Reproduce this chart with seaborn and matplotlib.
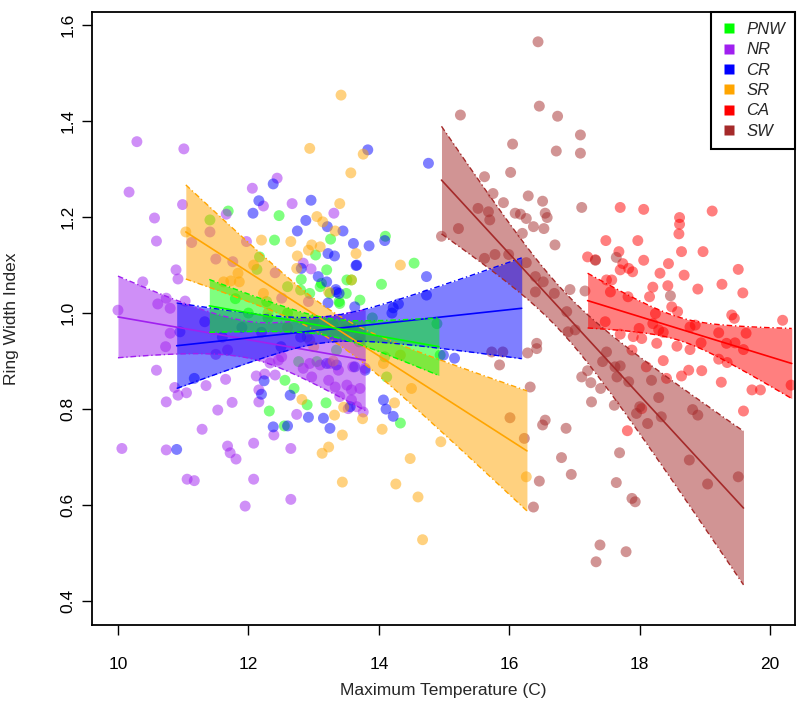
import numpy as np
import pandas as pd
import matplotlib
matplotlib.use("Agg")
import matplotlib.pyplot as plt
from matplotlib.lines import Line2D
import seaborn as sns

sns.set_style("white")
plt.rcParams['font.family'] = ['Liberation Sans', 'DejaVu Sans']

regions = ["PNW", "NR", "CR", "SR", "CA", "SW"]
colors = {"PNW": "#00FF00", "NR": "#A020F0", "CR": "#0000FF",
          "SR": "#FFA500", "CA": "#FF0000", "SW": "#A52A2A"}

nr_x = [10.29, 11.01, 10.17, 10.99, 10.56, 10.59, 11.66, 12.06, 12.44, 12.23, 12.67, 13.31, 10.89, 10.92,
        10.38, 10.0, 10.61, 10.8, 10.74, 11.03, 12.84, 12.96, 11.97, 10.8, 10.73, 10.59, 10.87, 10.92, 11.05,
        10.74, 11.35, 11.65, 11.75, 11.53, 11.29, 10.06, 10.74, 11.68, 11.72, 11.81, 12.08, 12.65, 11.06, 11.17,
        12.08, 11.95, 12.65, 12.39, 12.74, 12.16, 12.12, 12.25, 12.41, 12.16, 11.5, 11.68, 12.33, 12.46, 12.97,
        13.1, 13.25, 13.38, 13.23, 13.33, 13.51, 13.58, 13.71, 13.58, 13.66, 13.76, 13.53, 13.4, 12.94, 12.84,
        13.6, 13.79, 12.51, 12.94, 13.48, 11.41, 11.13, 11.5, 11.76, 12.41, 12.51, 12.92]
nr_y = [1.357, 1.342, 1.252, 1.226, 1.198, 1.15, 1.206, 1.26, 1.281, 1.223, 1.228, 1.208, 1.09, 1.071,
        1.065, 1.006, 1.019, 1.01, 1.031, 1.025, 1.104, 1.092, 1.149, 0.958, 0.93, 0.881, 0.845, 0.829, 0.834,
        0.815, 0.849, 0.862, 0.814, 0.798, 0.758, 0.718, 0.715, 0.723, 0.709, 0.696, 0.729, 0.718, 0.654, 0.651,
        0.654, 0.598, 0.612, 0.746, 0.789, 0.815, 0.869, 0.873, 0.871, 0.84, 0.914, 0.923, 0.896, 0.902, 0.867,
        0.892, 0.895, 0.881, 0.86, 0.846, 0.85, 0.84, 0.843, 0.819, 0.805, 0.794, 0.801, 0.826, 0.895, 0.885,
        0.888, 0.885, 0.909, 0.944, 0.965, 1.169, 1.147, 1.1125, 1.107, 1.084, 1.031, 1.024]

cr_x = [12.38, 12.16, 12.07, 12.96, 12.88, 12.75, 13.21, 13.45, 13.61, 13.65, 13.22, 13.32, 12.81, 13.07,
        13.2, 13.34, 13.22, 13.39, 13.83, 14.76, 13.85, 14.09, 13.66, 14.73, 13.35, 13.63, 14.73, 14.22, 14.3,
        14.07, 14.11, 14.22, 15.16, 14.99, 13.25, 13.56, 13.63, 13.35, 13.79, 10.9, 11.17, 12.38, 12.6, 12.2,
        12.24, 12.64, 12.92, 13.15, 11.33, 10.95, 11.6, 11.9, 12.2, 14.2, 12.5, 12.8, 13.2]
cr_y = [1.269, 1.234, 1.208, 1.235, 1.193, 1.171, 1.18, 1.171, 1.145, 1.099, 1.124, 1.119, 1.093, 1.076,
        1.065, 1.049, 1.021, 1.041, 1.34, 1.312, 1.14, 1.151, 1.1, 1.076, 1.044, 1.013, 1.0375, 1.011, 1.019,
        0.819, 0.8, 0.785, 0.906, 0.9125, 0.76, 0.805, 0.888, 0.892, 0.881, 0.716, 0.864, 0.763, 0.765, 0.831,
        0.859, 0.829, 0.783, 0.781, 0.982, 0.961, 0.95, 0.97, 0.96, 1.0, 0.93, 0.95, 0.895]

pnw_x = [11.69, 12.47, 12.4, 11.41, 13.26, 13.03, 13.2, 13.12, 12.81, 12.8, 13.51, 13.39, 12.17, 12.13,
         12.6, 12.28, 13.25, 12.94, 13.1, 14.1, 14.54, 14.04, 13.5, 13.71, 13.4, 13.58, 14.89, 14.94, 14.33,
         14.12, 14.09, 12.32, 12.55, 12.9, 13.19, 12.56, 12.7, 13.35, 13.05, 12.77, 12.0, 12.3, 12.6, 13.0,
         13.3, 13.6, 13.9, 11.8, 12.9, 13.7]
pnw_y = [1.2125, 1.203, 1.152, 1.194, 1.154, 1.121, 1.09, 1.062, 1.07, 1.048, 1.069, 1.024, 1.117, 1.091,
         1.055, 1.024, 1.041, 1.041, 1.055, 1.16, 1.104, 1.06, 1.041, 1.027, 1.02, 1.069, 0.978, 0.9125, 0.771,
         0.867, 0.909, 0.796, 0.765, 0.809, 0.813, 0.86, 0.843, 0.923, 0.899, 0.899, 1.0, 0.99, 1.0, 0.985,
         0.975, 0.97, 0.99, 1.03, 0.95, 0.94]

sr_x = [13.42, 12.94, 13.57, 13.4, 13.05, 13.14, 13.33, 12.2, 12.65, 12.97, 13.1, 12.92, 12.75, 12.74,
        13.65, 13.58, 13.23, 11.04, 11.84, 12.08, 11.62, 11.73, 11.86, 12.23, 13.76, 14.33, 12.82, 13.32,
        13.44, 13.23, 13.13, 13.44, 13.46, 14.05, 14.24, 13.75, 14.95, 14.48, 14.26, 14.6, 14.67, 16.26, 14.07,
        14.33, 14.5, 12.6, 13.0, 13.3, 13.7, 12.3]
sr_y = [1.454, 1.343, 1.292, 1.228, 1.201, 1.19, 1.171, 1.152, 1.149, 1.142, 1.138, 1.131, 1.119, 1.093,
        1.124, 1.069, 1.044, 1.169, 1.083, 1.1, 1.065, 1.067, 1.065, 1.041, 1.331, 1.1, 0.82, 0.7875,
        0.746, 0.721, 0.708, 0.648, 0.804, 0.758, 0.813, 0.78, 0.732, 0.697, 0.644, 0.617, 0.528, 0.659, 0.895,
        0.9125, 0.843, 0.97, 0.93, 0.9, 0.95, 1.0]

ca_x = [17.7, 18.06, 18.61, 18.61, 18.6, 19.11, 17.48, 17.97, 17.68, 17.2, 18.06, 18.64, 18.97, 17.74,
        18.44, 17.83, 17.7, 17.89, 18.31, 18.68, 19.51, 17.57, 18.2, 18.43, 18.89, 19.26, 19.58, 18.15, 17.55,
        17.82, 18.49, 18.58, 18.24, 19.41, 19.45, 20.19, 17.47, 18.2, 17.99, 18.29, 18.36, 18.77, 18.85, 19.21,
        19.63, 17.7, 17.9, 18.03, 18.26, 18.57, 18.77, 18.94, 19.33, 19.46, 19.59, 17.88, 18.36, 19.21, 19.34,
        18.75, 18.95, 18.64, 18.41, 19.25, 19.72, 19.85, 20.32, 18.1, 17.81, 19.59, 18.03, 17.32, 17.49]
ca_y = [1.22, 1.216, 1.199, 1.185, 1.165, 1.2125, 1.151, 1.151, 1.128, 1.117, 1.11, 1.128, 1.128, 1.103,
        1.103, 1.093, 1.09, 1.086, 1.083, 1.079, 1.091, 1.069, 1.054, 1.057, 1.05, 1.06, 1.042, 1.034, 1.044,
        1.034, 1.013, 1.003, 0.999, 0.996, 0.989, 0.985, 0.982, 0.978, 0.968, 0.965, 0.96, 0.971, 0.975, 0.959,
        0.958, 0.956, 0.951, 0.947, 0.937, 0.931, 0.924, 0.938, 0.937, 0.938, 0.924, 0.923, 0.901, 0.904, 0.897,
        0.881, 0.88, 0.869, 0.864, 0.856, 0.84, 0.84, 0.85, 0.888, 0.755, 0.796, 0.801, 1.111, 1.069]

sw_x = [16.44, 15.25, 16.46, 16.74, 17.09, 16.05, 16.72, 17.09, 15.62, 16.02, 15.75, 15.91, 16.29, 16.51,
        15.52, 15.68, 15.7, 16.09, 16.17, 16.26, 16.55, 16.58, 16.37, 16.53, 17.11, 15.22, 14.96, 16.2, 16.7,
        15.62, 15.78, 15.99, 16.26, 16.4, 16.52, 16.4, 16.69, 16.93, 17.16, 16.88, 16.9, 17.01, 16.42, 16.42,
        16.28, 15.85, 15.73, 15.9, 16.32, 17.11, 17.25, 17.26, 17.4, 17.43, 17.49, 17.62, 17.65, 17.61, 16.55,
        16.51, 16.87, 16.8, 16.95, 16.46, 16.37, 17.39, 17.33, 17.69, 17.64, 16.23, 16.01, 17.83, 18.0, 17.95,
        18.12, 18.33, 18.29, 18.81, 18.89, 18.76, 19.04, 19.51, 17.88, 17.93, 17.79, 17.32, 17.64, 18.47,
        18.18, 17.7, 17.2]
sw_y = [1.565, 1.4125, 1.431, 1.41, 1.371, 1.352, 1.3375, 1.333, 1.284, 1.293, 1.249, 1.23, 1.244, 1.233,
        1.218, 1.211, 1.194, 1.208, 1.206, 1.197, 1.208, 1.199, 1.18, 1.176, 1.22, 1.176, 1.16, 1.166, 1.142,
        1.114, 1.122, 1.122, 1.105, 1.076, 1.065, 1.044, 1.041, 1.049, 1.046, 1.003, 0.961, 0.965, 0.937, 0.926,
        0.917, 0.892, 0.919, 0.919, 0.846, 0.867, 0.855, 0.815, 0.843, 0.899, 0.919, 0.888, 0.867, 0.808, 0.777,
        0.767, 0.76, 0.699, 0.664, 0.65, 0.596, 0.517, 0.482, 0.709, 0.647, 0.739, 0.782, 0.857, 0.805, 0.791,
        0.77, 0.784, 0.824, 0.799, 0.7875, 0.694, 0.644, 0.659, 0.614, 0.607, 0.503, 1.11, 1.116, 1.036,
        0.86, 0.89, 0.88]

# Fitted lines and confidence band half-widths
fit_region = ["SW", "CA", "SR", "NR", "CR", "PNW"]
fit_x0 = [14.96, 17.2, 11.04, 10.0, 10.9, 11.4]
fit_x1 = [19.59, 20.33, 16.27, 13.79, 16.19, 14.92]
fit_y0 = [1.277, 1.026, 1.169, 0.992, 0.932, 1.015]
fit_y1 = [0.594, 0.895, 0.713, 0.902, 1.010, 0.930]
band_hw0 = [0.112, 0.057, 0.098, 0.085, 0.089, 0.055]
band_hw1 = [0.160, 0.073, 0.125, 0.105, 0.105, 0.060]
band_xm = [16.8, 18.6, 13.3, 11.95, 13.2, 13.2]
band_hwm = [0.045, 0.024, 0.03, 0.038, 0.027, 0.018]

frames = []
for reg, xs, ys in [("PNW", pnw_x, pnw_y), ("NR", nr_x, nr_y), ("CR", cr_x, cr_y),
                    ("SR", sr_x, sr_y), ("CA", ca_x, ca_y), ("SW", sw_x, sw_y)]:
    frames.append(pd.DataFrame({"temp": xs, "rwi": ys, "region": reg}))
df = pd.concat(frames, ignore_index=True)

fig = plt.figure(figsize=(7.99, 7.08), dpi=100)
ax = fig.add_axes([0.115, 0.117, 0.880, 0.866])

sns.scatterplot(data=df, x="temp", y="rwi", hue="region", palette=colors,
                hue_order=["SW", "CA", "SR", "NR", "CR", "PNW"],
                s=62, alpha=0.5, linewidth=0, ax=ax, legend=False, zorder=2)

for i, reg in enumerate(fit_region):
    c = colors[reg]
    xs = np.linspace(fit_x0[i], fit_x1[i], 200)
    yfit = fit_y0[i] + (fit_y1[i] - fit_y0[i]) * (xs - fit_x0[i]) / (fit_x1[i] - fit_x0[i])
    xm, hwm = band_xm[i], band_hwm[i]
    cl = (band_hw0[i] ** 2 - hwm ** 2) / (fit_x0[i] - xm) ** 2
    cr = (band_hw1[i] ** 2 - hwm ** 2) / (fit_x1[i] - xm) ** 2
    cc = np.where(xs < xm, cl, cr)
    hw = np.sqrt(hwm ** 2 + cc * (xs - xm) ** 2)
    ax.fill_between(xs, yfit - hw, yfit + hw, color=c, alpha=0.5, linewidth=0, zorder=3)
    ax.plot(xs, yfit + hw, color=c, lw=1.0, ls=(0, (4, 2, 1, 2)), zorder=4)
    ax.plot(xs, yfit - hw, color=c, lw=1.0, ls=(0, (4, 2, 1, 2)), zorder=4)
    ax.plot(xs, yfit, color=c, lw=1.2, zorder=4)

ax.set_xlim(9.6, 20.38)
ax.set_ylim(0.35, 1.627)
ax.set_xticks([10, 12, 14, 16, 18, 20])
ax.set_yticks([0.4, 0.6, 0.8, 1.0, 1.2, 1.4, 1.6])
ax.set_yticklabels(["0.4", "0.6", "0.8", "1.0", "1.2", "1.4", "1.6"], rotation=90, va="center")
ax.tick_params(axis="both", direction="out", length=7, width=1, labelsize=12.5,
               left=True, bottom=True, colors="black")
ax.tick_params(axis="y", pad=5)
ax.tick_params(axis="x", pad=16)
for sp in ax.spines.values():
    sp.set_visible(True)
    sp.set_color("black")
    sp.set_linewidth(1.3)
ax.set_xlabel("Maximum Temperature (C)", fontsize=12.5, labelpad=8)
ax.set_ylabel("Ring Width Index", fontsize=12.5, labelpad=30)

handles = [Line2D([0], [0], marker="s", color="none", markerfacecolor=colors[r],
                  markeredgecolor="none", markersize=7, label=r) for r in regions]
leg = ax.legend(handles=handles, loc="upper right", borderaxespad=0, frameon=True,
                fancybox=False, edgecolor="black", framealpha=1, prop={"style": "italic", "size": 12},
                handlelength=0.9, handletextpad=0.6, labelspacing=0.32, borderpad=0.6)
leg.get_frame().set_linewidth(1.5)

fig.savefig("out.png", dpi=100)
